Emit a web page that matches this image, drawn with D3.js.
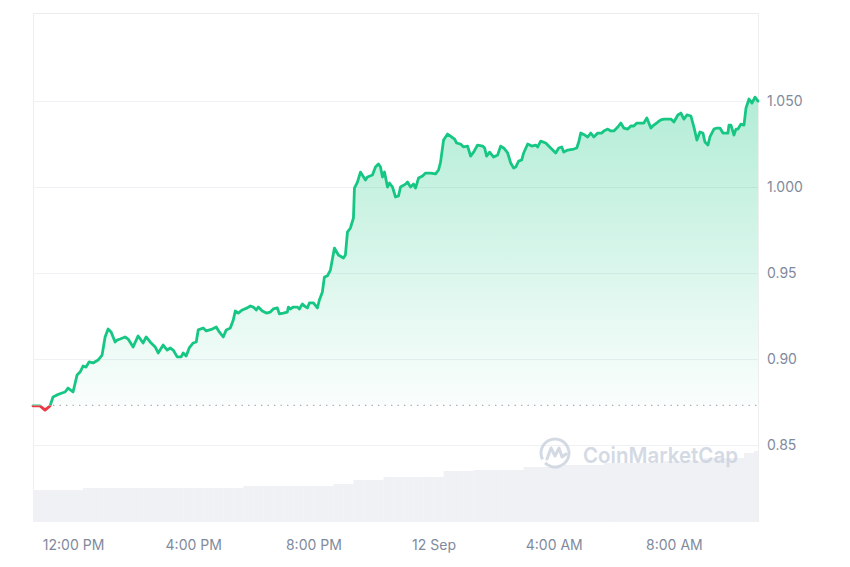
<!DOCTYPE html>
<html><head><meta charset="utf-8">
<script src="https://cdn.jsdelivr.net/npm/d3@7"></script>
<style>
body{margin:0;background:#fff}
svg text{font-family:Inter,"Noto Sans",sans-serif}
</style>
</head><body>
<svg id="chart" width="850" height="567"></svg>
<script>
// ---- data ----
const startTime = "2023-09-11T10:40:00";
const endTime   = "2023-09-12T10:48:00";
// minutes since startTime
const minutes = [0,14,24,34,40,48,58,64,70,80,
88,94,100,106,112,120,130,138,144,150,
156,164,168,174,184,190,200,210,220,226,
234,244,250,260,268,274,280,288,296,300,
306,312,320,326,330,340,346,358,366,372,
380,386,394,400,404,410,418,428,434,440,
446,450,458,466,474,480,488,492,500,508,
510,514,520,528,532,538,542,548,552,560,
568,572,578,582,588,594,602,610,620,624,
628,634,640,642,648,654,664,668,678,684,
690,694,698,702,708,712,718,724,730,734,
744,748,754,760,764,770,778,784,794,804,
810,814,820,828,836,842,846,854,860,868,
874,880,888,898,902,906,912,920,928,934,
940,948,954,960,964,970,976,980,988,996,
1004,1008,1014,1024,1034,1044,1050,1056,1060,1068,
1080,1086,1090,1094,1102,1108,1114,1120,1128,1136,
1140,1148,1154,1160,1168,1174,1180,1188,1194,1200,
1206,1212,1220,1226,1230,1234,1240,1248,1254,1260,
1268,1274,1280,1288,1294,1300,1306,1314,1320,1326,
1332,1338,1342,1348,1352,1360,1366,1372,1378,1388,
1390,1394,1400,1404,1408,1414,1420,1424,1430,1436,
1442,1448];
const prices = [0.8727,0.8727,0.8703,0.8727,0.8779,0.8791,0.8802,0.8808,0.8831,0.8808,
0.8907,0.8924,0.8959,0.8953,0.8983,0.8977,0.8994,0.9023,0.9128,0.9174,
0.9157,0.9099,0.9110,0.9116,0.9128,0.9116,0.9070,0.9134,0.9093,0.9128,
0.9099,0.9070,0.9035,0.9081,0.9052,0.9064,0.9052,0.9012,0.9012,0.9035,
0.9017,0.9064,0.9093,0.9099,0.9169,0.9180,0.9163,0.9174,0.9186,0.9157,
0.9128,0.9169,0.9180,0.9227,0.9279,0.9267,0.9285,0.9297,0.9308,0.9302,
0.9285,0.9302,0.9279,0.9267,0.9273,0.9291,0.9297,0.9262,0.9267,0.9273,
0.9302,0.9291,0.9302,0.9302,0.9291,0.9320,0.9308,0.9297,0.9326,0.9326,
0.9297,0.9343,0.9390,0.9477,0.9483,0.9517,0.9645,0.9605,0.9587,0.9605,
0.9738,0.9762,0.9820,0.9994,1.0029,1.0087,1.0041,1.0058,1.0070,1.0116,
1.0134,1.0116,1.0058,1.0087,1.0000,1.0023,1.0000,0.9942,0.9948,1.0000,
1.0017,1.0029,1.0000,1.0017,0.9994,1.0052,1.0064,1.0081,1.0081,1.0076,
1.0099,1.0145,1.0273,1.0308,1.0291,1.0279,1.0256,1.0250,1.0233,1.0238,
1.0180,1.0203,1.0244,1.0238,1.0227,1.0180,1.0203,1.0174,1.0186,1.0238,
1.0227,1.0198,1.0140,1.0110,1.0116,1.0151,1.0157,1.0198,1.0250,1.0238,
1.0244,1.0233,1.0267,1.0256,1.0227,1.0198,1.0227,1.0233,1.0203,1.0215,
1.0221,1.0227,1.0262,1.0314,1.0302,1.0291,1.0314,1.0291,1.0314,1.0314,
1.0326,1.0337,1.0326,1.0326,1.0349,1.0372,1.0343,1.0337,1.0355,1.0355,
1.0372,1.0372,1.0372,1.0401,1.0372,1.0343,1.0360,1.0378,1.0390,1.0395,
1.0395,1.0395,1.0378,1.0419,1.0430,1.0395,1.0419,1.0413,1.0349,1.0273,
1.0320,1.0314,1.0262,1.0244,1.0291,1.0337,1.0343,1.0343,1.0314,1.0314,
1.0360,1.0360,1.0302,1.0337,1.0337,1.0366,1.0360,1.0459,1.0512,1.0488,
1.0523,1.0500];
const basePrice = 0.8730;
const volumeStepMinutes = 20;
const volumes = [3.2,3.2,3.2,3.2,3.2,
3.4,3.4,3.4,3.4,3.4,3.4,3.4,3.4,3.4,3.4,3.4,3.4,3.4,3.4,3.4,3.4,
3.6,3.6,3.6,3.6,3.6,3.6,3.6,3.6,3.6,
3.8,3.8,
4.2,4.2,4.2,
4.5,4.5,4.5,4.5,4.5,4.5,
5.1,5.1,5.1,
5.2,5.2,5.2,5.2,5.2,
5.5,5.5,5.5,5.5,
5.7,5.7,5.7,5.7,
5.9,5.9,5.9,5.9,5.9,5.9,
6.1,6.1,6.1,6.1,
6.4,6.4,6.4,6.4,
6.9,7.1];
const yTicks = [0.85,0.90,0.95,1.00,1.05];
const yTickLabels = ["0.85","0.90","0.95","1.000","1.050"];
const xTickTimes = ["2023-09-11T12:00:00","2023-09-11T16:00:00","2023-09-11T20:00:00",
                    "2023-09-12T00:00:00","2023-09-12T04:00:00","2023-09-12T08:00:00"];
const xTickLabels = ["12:00 PM","4:00 PM","8:00 PM","12 Sep","4:00 AM","8:00 AM"];

// ---- layout ----
const L = 33, R = 758, T = 13, B = 522;
const t0 = new Date(startTime), t1 = new Date(endTime);
const toDate = m => new Date(t0.getTime() + m * 60000);
const points = minutes.map((m, i) => ({t: toDate(m), v: prices[i]}));

const svg = d3.select("#chart");
const x = d3.scaleTime().domain([t0, t1]).range([L, R]);
const y = d3.scaleLinear().domain([0.8052, 1.1012]).range([B, T]);
const yv = d3.scaleLinear().domain([0, 10]).range([B, B - 100]);

const defs = svg.append("defs");
defs.append("clipPath").attr("id", "plot").append("rect")
  .attr("x", L).attr("y", T).attr("width", R - L).attr("height", B - T);
defs.append("clipPath").attr("id", "above").append("rect")
  .attr("x", L - 5).attr("y", 0).attr("width", R - L + 10).attr("height", y(basePrice));
defs.append("clipPath").attr("id", "below").append("rect")
  .attr("x", L - 5).attr("y", y(basePrice)).attr("width", R - L + 10).attr("height", 567);

const gG = defs.append("linearGradient").attr("id", "gg")
  .attr("gradientUnits", "userSpaceOnUse").attr("x1", 0).attr("x2", 0)
  .attr("y1", y(d3.max(prices))).attr("y2", y(basePrice));
gG.append("stop").attr("offset", 0).attr("stop-color", "#16c784").attr("stop-opacity", 0.33);
gG.append("stop").attr("offset", 1).attr("stop-color", "#16c784").attr("stop-opacity", 0.02);
const gR = defs.append("linearGradient").attr("id", "gr")
  .attr("gradientUnits", "userSpaceOnUse").attr("x1", 0).attr("x2", 0)
  .attr("y1", y(basePrice)).attr("y2", y(d3.min(prices)));
gR.append("stop").attr("offset", 0).attr("stop-color", "#ea3943").attr("stop-opacity", 0.02);
gR.append("stop").attr("offset", 1).attr("stop-color", "#ea3943").attr("stop-opacity", 0.25);

// frame
svg.append("line").attr("x1", L).attr("x2", R).attr("y1", T + 0.5).attr("y2", T + 0.5)
  .attr("stroke", "#ececec");
svg.append("line").attr("x1", L + 0.5).attr("x2", L + 0.5).attr("y1", T).attr("y2", B)
  .attr("stroke", "#efefef");
svg.append("line").attr("x1", R + 0.5).attr("x2", R + 0.5).attr("y1", T).attr("y2", B)
  .attr("stroke", "#efefef");

// grid
svg.append("g").selectAll("line").data(yTicks).join("line")
  .attr("x1", L).attr("x2", R)
  .attr("y1", d => Math.round(y(d)) + 0.5).attr("y2", d => Math.round(y(d)) + 0.5)
  .attr("stroke", "#eff1f4");

// volume bars
const bw = x(toDate(volumeStepMinutes)) - x(t0);
svg.append("g").attr("clip-path", "url(#plot)").selectAll("rect").data(volumes).join("rect")
  .attr("x", (d, i) => x(toDate(i * volumeStepMinutes)))
  .attr("width", bw + 0.2)
  .attr("y", d => yv(d)).attr("height", d => B - yv(d))
  .attr("fill", "#eff1f5");

// areas
const area = d3.area().x(d => x(d.t)).y0(y(basePrice)).y1(d => y(d.v));
svg.append("path").datum(points).attr("d", area).attr("fill", "url(#gg)").attr("clip-path", "url(#above)");
svg.append("path").datum(points).attr("d", area).attr("fill", "url(#gr)").attr("clip-path", "url(#below)");

// baseline
svg.append("line").attr("x1", L + 20).attr("x2", R).attr("y1", y(basePrice)).attr("y2", y(basePrice))
  .attr("stroke", "#a7afbf").attr("stroke-width", 1.4).attr("stroke-dasharray", "1.4,5.1");

// price line
const line = d3.line().x(d => x(d.t)).y(d => y(d.v));
svg.append("path").datum(points).attr("d", line).attr("fill", "none")
  .attr("stroke", "#16c784").attr("stroke-width", 2.8).attr("stroke-linejoin", "round")
  .attr("stroke-linecap", "round").attr("clip-path", "url(#above)");
svg.append("path").datum(points).attr("d", line).attr("fill", "none")
  .attr("stroke", "#ea3943").attr("stroke-width", 2.8).attr("stroke-linejoin", "round")
  .attr("stroke-linecap", "round").attr("clip-path", "url(#below)");

// watermark
const wm = svg.append("g").attr("opacity", 0.75);
const lc = [555, 453];
wm.append("path")
  .attr("d", d3.arc()({innerRadius: 12.5, outerRadius: 15.5, startAngle: 0.35 * Math.PI, endAngle: 2.25 * Math.PI}))
  .attr("transform", `translate(${lc[0]},${lc[1]}) rotate(180)`)
  .attr("fill", "#c6cedc");
wm.append("path")
  .attr("d", `M${lc[0]-8},${lc[1]+6} L${lc[0]-4},${lc[1]-5} L${lc[0]},${lc[1]+3} L${lc[0]+4},${lc[1]-5} L${lc[0]+7},${lc[1]+4} L${lc[0]+11},${lc[1]+1}`)
  .attr("fill", "none").attr("stroke", "#c6cedc").attr("stroke-width", 3)
  .attr("stroke-linejoin", "round").attr("stroke-linecap", "round");
wm.append("text").attr("x", 583).attr("y", 463).text("CoinMarketCap")
  .attr("fill", "#c6cedc").attr("font-size", 22).attr("font-weight", 600)
  .attr("textLength", 155).attr("lengthAdjust", "spacingAndGlyphs");

// axes
const yAxis = d3.axisRight(y).tickValues(yTicks).tickSize(0).tickPadding(9)
  .tickFormat((d, i) => yTickLabels[i]);
const gy = svg.append("g").attr("transform", `translate(${R},0)`).call(yAxis);
gy.select(".domain").remove();
gy.selectAll("text").attr("fill", "#808a9d").attr("font-size", 14)
  .style("font-family", "Inter, 'Noto Sans', sans-serif");

const xAxis = d3.axisBottom(x).tickValues(xTickTimes.map(s => new Date(s))).tickSize(0).tickPadding(18)
  .tickFormat((d, i) => xTickLabels[i]);
const gx = svg.append("g").attr("transform", `translate(0,${B})`).call(xAxis);
gx.select(".domain").remove();
gx.selectAll("text").attr("fill", "#808a9d").attr("font-size", 14)
  .style("font-family", "Inter, 'Noto Sans', sans-serif");
</script>
</body></html>
